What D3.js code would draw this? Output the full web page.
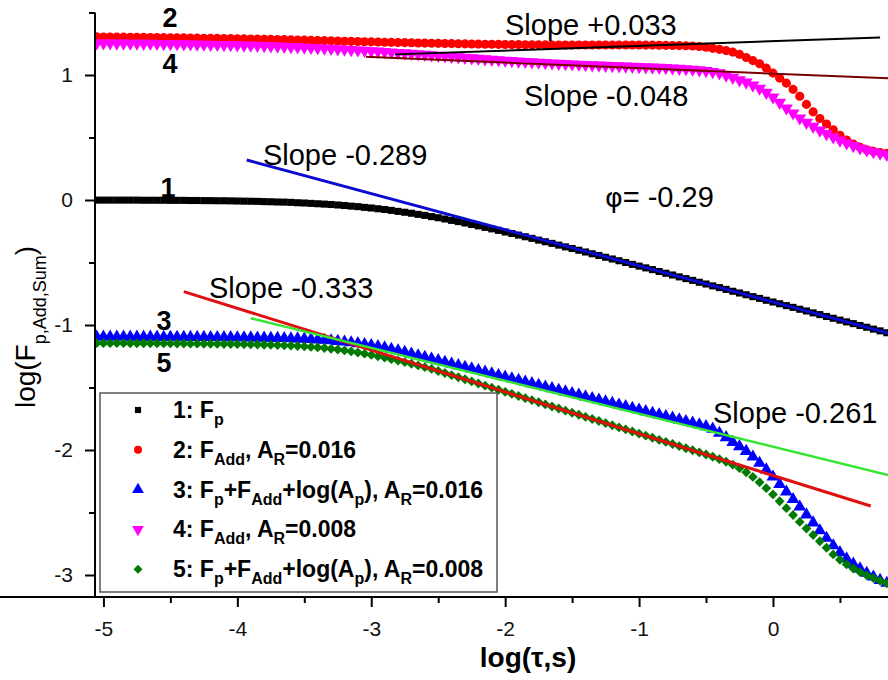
<!DOCTYPE html>
<html><head><meta charset="utf-8">
<script src="https://cdn.jsdelivr.net/npm/d3@7"></script>
<style>body{margin:0;background:#fff}svg{display:block}</style>
</head><body>
<svg id="c" width="888" height="680"></svg>
<script>
// ---------------- data ----------------
const logTau = [
-5.05,-5.00,-4.95,-4.90,-4.85,-4.80,-4.75,-4.70,-4.65,-4.60,
-4.55,-4.50,-4.45,-4.40,-4.35,-4.30,-4.25,-4.20,-4.15,-4.10,
-4.05,-4.00,-3.95,-3.90,-3.85,-3.80,-3.75,-3.70,-3.65,-3.60,
-3.55,-3.50,-3.45,-3.40,-3.35,-3.30,-3.25,-3.20,-3.15,-3.10,
-3.05,-3.00,-2.95,-2.90,-2.85,-2.80,-2.75,-2.70,-2.65,-2.60,
-2.55,-2.50,-2.45,-2.40,-2.35,-2.30,-2.25,-2.20,-2.15,-2.10,
-2.05,-2.00,-1.95,-1.90,-1.85,-1.80,-1.75,-1.70,-1.65,-1.60,
-1.55,-1.50,-1.45,-1.40,-1.35,-1.30,-1.25,-1.20,-1.15,-1.10,
-1.05,-1.00,-0.95,-0.90,-0.85,-0.80,-0.75,-0.70,-0.65,-0.60,
-0.55,-0.50,-0.45,-0.40,-0.35,-0.30,-0.25,-0.20,-0.15,-0.10,
-0.05,0.00,0.05,0.10,0.15,0.20,0.25,0.30,0.35,0.40,
0.45,0.50,0.55,0.60,0.65,0.70,0.75,0.80,0.85];

// 1: Fp
const series1 = [
-0.001,-0.001,-0.001,-0.001,-0.001,-0.001,-0.001,-0.002,-0.002,-0.002,
-0.002,-0.003,-0.003,-0.003,-0.004,-0.004,-0.005,-0.005,-0.006,-0.006,
-0.007,-0.008,-0.009,-0.010,-0.011,-0.013,-0.014,-0.016,-0.017,-0.019,
-0.022,-0.024,-0.027,-0.030,-0.033,-0.036,-0.040,-0.044,-0.049,-0.053,
-0.059,-0.064,-0.070,-0.076,-0.083,-0.091,-0.098,-0.106,-0.115,-0.123,
-0.133,-0.142,-0.152,-0.163,-0.173,-0.184,-0.196,-0.207,-0.219,-0.231,
-0.243,-0.256,-0.268,-0.281,-0.294,-0.307,-0.321,-0.334,-0.347,-0.361,
-0.375,-0.388,-0.402,-0.416,-0.430,-0.444,-0.458,-0.472,-0.486,-0.500,
-0.515,-0.529,-0.543,-0.557,-0.572,-0.586,-0.600,-0.615,-0.629,-0.643,
-0.658,-0.672,-0.687,-0.701,-0.715,-0.730,-0.744,-0.758,-0.773,-0.787,
-0.802,-0.816,-0.830,-0.845,-0.859,-0.874,-0.888,-0.903,-0.917,-0.932,
-0.946,-0.961,-0.975,-0.989,-1.004,-1.018,-1.033,-1.047,-1.062];

// 2: F_Add, A_R = 0.016
const series2 = [
1.305,1.304,1.304,1.303,1.303,1.302,1.302,1.301,1.300,1.300,
1.299,1.298,1.298,1.297,1.296,1.295,1.294,1.293,1.293,1.292,
1.291,1.290,1.289,1.288,1.287,1.286,1.285,1.284,1.283,1.281,
1.280,1.279,1.277,1.276,1.275,1.273,1.272,1.270,1.269,1.268,
1.266,1.265,1.264,1.262,1.261,1.260,1.259,1.258,1.256,1.255,
1.254,1.253,1.252,1.251,1.250,1.249,1.248,1.247,1.246,1.246,
1.245,1.244,1.243,1.243,1.242,1.242,1.241,1.241,1.240,1.240,
1.240,1.240,1.240,1.240,1.240,1.240,1.240,1.240,1.240,1.240,
1.240,1.240,1.239,1.239,1.238,1.237,1.236,1.235,1.234,1.232,
1.228,1.222,1.213,1.205,1.195,1.183,1.165,1.140,1.115,1.090,
1.055,1.015,0.975,0.935,0.885,0.830,0.765,0.705,0.652,0.608,
0.562,0.518,0.480,0.447,0.421,0.402,0.389,0.380,0.373];

// 3: Fp + F_Add + log(Ap), A_R = 0.016
const series3 = [
-1.095,-1.095,-1.095,-1.095,-1.095,-1.096,-1.096,-1.096,-1.096,-1.096,
-1.097,-1.097,-1.097,-1.097,-1.098,-1.098,-1.098,-1.099,-1.099,-1.100,
-1.100,-1.101,-1.101,-1.102,-1.103,-1.104,-1.105,-1.106,-1.107,-1.109,
-1.110,-1.112,-1.115,-1.118,-1.121,-1.125,-1.130,-1.135,-1.141,-1.148,
-1.155,-1.163,-1.172,-1.182,-1.193,-1.205,-1.218,-1.232,-1.245,-1.258,
-1.271,-1.284,-1.297,-1.311,-1.324,-1.337,-1.350,-1.363,-1.376,-1.389,
-1.403,-1.416,-1.429,-1.442,-1.455,-1.468,-1.481,-1.495,-1.508,-1.521,
-1.534,-1.547,-1.560,-1.574,-1.587,-1.600,-1.613,-1.626,-1.639,-1.652,
-1.666,-1.679,-1.692,-1.705,-1.718,-1.731,-1.744,-1.758,-1.771,-1.784,
-1.797,-1.812,-1.832,-1.865,-1.900,-1.938,-1.972,-2.010,-2.055,-2.105,
-2.158,-2.215,-2.275,-2.335,-2.395,-2.455,-2.518,-2.582,-2.645,-2.705,
-2.765,-2.820,-2.870,-2.912,-2.950,-2.985,-3.015,-3.042,-3.065];

// 4: F_Add, A_R = 0.008
const series4 = [
1.255,1.255,1.255,1.254,1.254,1.253,1.253,1.252,1.252,1.251,
1.250,1.250,1.249,1.248,1.247,1.246,1.245,1.244,1.243,1.242,
1.241,1.240,1.238,1.237,1.236,1.234,1.232,1.230,1.228,1.226,
1.224,1.222,1.219,1.217,1.214,1.211,1.208,1.205,1.202,1.199,
1.196,1.193,1.190,1.186,1.183,1.179,1.176,1.172,1.168,1.164,
1.160,1.156,1.152,1.148,1.144,1.140,1.136,1.132,1.128,1.124,
1.121,1.117,1.114,1.110,1.107,1.104,1.101,1.098,1.095,1.092,
1.090,1.087,1.085,1.082,1.080,1.078,1.076,1.074,1.072,1.070,
1.068,1.066,1.064,1.062,1.060,1.058,1.055,1.052,1.049,1.045,
1.040,1.034,1.026,1.016,0.998,0.980,0.960,0.942,0.918,0.893,
0.860,0.823,0.780,0.735,0.695,0.655,0.620,0.588,0.558,0.530,
0.503,0.478,0.455,0.434,0.415,0.399,0.385,0.373,0.363];

// 5: Fp + F_Add + log(Ap), A_R = 0.008
const series5 = [
-1.145,-1.145,-1.145,-1.145,-1.145,-1.146,-1.146,-1.146,-1.146,-1.147,
-1.147,-1.147,-1.148,-1.148,-1.149,-1.149,-1.150,-1.150,-1.151,-1.152,
-1.152,-1.153,-1.154,-1.155,-1.156,-1.158,-1.159,-1.161,-1.163,-1.165,
-1.168,-1.171,-1.175,-1.179,-1.184,-1.190,-1.196,-1.203,-1.211,-1.220,
-1.229,-1.239,-1.250,-1.261,-1.273,-1.285,-1.297,-1.310,-1.323,-1.337,
-1.351,-1.368,-1.384,-1.401,-1.418,-1.434,-1.451,-1.468,-1.485,-1.501,
-1.518,-1.535,-1.551,-1.568,-1.585,-1.601,-1.618,-1.635,-1.652,-1.668,
-1.685,-1.702,-1.718,-1.735,-1.752,-1.768,-1.785,-1.802,-1.819,-1.835,
-1.852,-1.869,-1.885,-1.902,-1.919,-1.935,-1.952,-1.969,-1.986,-2.002,
-2.019,-2.036,-2.054,-2.073,-2.094,-2.117,-2.145,-2.178,-2.215,-2.258,
-2.305,-2.355,-2.410,-2.465,-2.520,-2.575,-2.628,-2.680,-2.730,-2.782,
-2.835,-2.878,-2.915,-2.948,-2.976,-3.002,-3.025,-3.047,-3.067];

// fitted slope lines: [x0, x1] and [y0, y1] in data units
const slopeNames = ["+0.033", "-0.048", "-0.289", "-0.333", "-0.261"];
const slopeX = [[-2.82, 0.80], [-3.04, 0.86], [-3.93, 0.86], [-4.40, 0.73], [-3.90, 0.86]];
const slopeY = [[1.165, 1.300], [1.146, 0.973], [0.320, -1.064], [-0.733, -2.448], [-0.946, -2.200]];

// annotations (data units)
const annoText = ["Slope +0.033", "Slope -0.048", "Slope -0.289", "Slope -0.333", "Slope -0.261"];
const annoX = [-2.001, -1.860, -3.809, -4.212, -0.448];
const annoY = [1.320, 0.752, 0.280, -0.784, -1.784];
const phiText = "= -0.29";
const phiX = -1.255, phiY = -0.056;

const curveNums = ["2", "4", "1", "3", "5"];
const curveNumX = [-4.503, -4.503, -4.518, -4.548, -4.548];
const curveNumY = [1.384, 1.016, 0.024, -1.040, -1.376];

const xTicks = [-5, -4, -3, -2, -1, 0];
const xMinor = [-4.5, -3.5, -2.5, -1.5, -0.5, 0.5];
const yTicks = [-3, -2, -1, 0, 1];
const yMinor = [-2.5, -1.5, -0.5, 0.5, 1.5];

// legend labels: [text, isSubscript]
const legendLabels = [
  [["1: F",0],["p",1]],
  [["2: F",0],["Add",1],[", A",0],["R",1],["=0.016",0]],
  [["3: F",0],["p",1],["+F",0],["Add",1],["+log(A",0],["p",1],["), A",0],["R",1],["=0.016",0]],
  [["4: F",0],["Add",1],[", A",0],["R",1],["=0.008",0]],
  [["5: F",0],["p",1],["+F",0],["Add",1],["+log(A",0],["p",1],["), A",0],["R",1],["=0.008",0]]
];

// ---------------- styles ----------------
const seriesData = [series1, series2, series3, series4, series5];
const seriesColor = ["#000000", "#ff0000", "#0000ff", "#ff00ff", "#007a00"];
const seriesSymbol = [d3.symbolSquare, d3.symbolCircle, d3.symbolTriangle, d3.symbolTriangle, d3.symbolSquare];
const seriesSize = [50, 66, 72, 72, 48];
const seriesRot = [0, 0, 0, 180, 45];
const legendSize = [38, 50, 60, 60, 40];
const slopeColor = ["#000000", "#7a0000", "#0a0ad0", "#e01010", "#33e633"];
const slopeWidth = [2, 2, 3, 3, 2.5];

const FONT = "'Liberation Sans', Arial, Helvetica, sans-serif";
const svg = d3.select("#c");
const x = d3.scaleLinear().domain([-5.063, 0.859]).range([95, 888]);
const y = d3.scaleLinear().domain([-3.176, 1.5]).range([597, 12.5]);

svg.append("defs").append("clipPath").attr("id", "plot")
  .append("rect").attr("x", 95).attr("y", 10).attr("width", 793).attr("height", 587);

const plot = svg.append("g").attr("clip-path", "url(#plot)");

seriesData.forEach((vals, si) => {
  const sym = d3.symbol().type(seriesSymbol[si]).size(seriesSize[si]);
  plot.append("g").selectAll("path").data(logTau.map((t, i) => [t, vals[i]]))
    .join("path")
    .attr("d", sym)
    .attr("transform", d => `translate(${x(d[0])},${y(d[1])}) rotate(${seriesRot[si]})`)
    .attr("fill", seriesColor[si]);
});

slopeX.forEach((xs, i) => {
  plot.append("line")
    .attr("x1", x(xs[0])).attr("x2", x(xs[1]))
    .attr("y1", y(slopeY[i][0])).attr("y2", y(slopeY[i][1]))
    .attr("stroke", slopeColor[i]).attr("stroke-width", slopeWidth[i]);
});

// axes
const axisFont = g => g.selectAll("text").attr("font-family", FONT).attr("font-size", 21).attr("fill", "#111");
const gx = svg.append("g").attr("transform", "translate(0,597)");
gx.call(d3.axisBottom(x).tickValues(xTicks).tickSize(10).tickSizeOuter(0).tickPadding(14).tickFormat(d => String(d)));
gx.append("g").call(d3.axisBottom(x).tickValues(xMinor).tickSize(6).tickSizeOuter(0).tickFormat(""))
  .select(".domain").remove();
gx.call(axisFont);
const gy = svg.append("g").attr("transform", "translate(95,0)");
gy.call(d3.axisLeft(y).tickValues(yTicks).tickSize(10).tickSizeOuter(0).tickPadding(12).tickFormat(d => String(d)));
gy.append("g").call(d3.axisLeft(y).tickValues(yMinor).tickSize(6).tickSizeOuter(0).tickFormat(""))
  .select(".domain").remove();
gy.call(axisFont);
svg.selectAll(".domain, .tick line").attr("stroke", "#000").attr("stroke-width", 2);
gx.select(".domain").attr("d", "M0,0H888");
gy.select(".domain").attr("d", "M0,12.5V597");

// axis titles
svg.append("text").attr("x", 528).attr("y", 667).attr("text-anchor", "middle")
  .attr("font-family", FONT).attr("font-weight", "bold").attr("font-size", 28)
  .text("log(τ,s)");
const yt = svg.append("text").attr("transform", "translate(35,327) rotate(-90)")
  .attr("text-anchor", "middle").attr("font-family", FONT).attr("font-size", 28);
yt.append("tspan").text("log(F");
yt.append("tspan").attr("font-size", 18).attr("dy", 11).text("p,Add,Sum");
yt.append("tspan").attr("dy", -11).text(")");

// annotations
annoText.forEach((t, i) => {
  svg.append("text").attr("x", x(annoX[i])).attr("y", y(annoY[i]))
    .attr("font-family", FONT).attr("font-size", 29).text(t);
});
const phi = svg.append("text").attr("x", x(phiX)).attr("y", y(phiY))
  .attr("font-family", FONT).attr("font-size", 29);
phi.append("tspan").attr("font-family", "'DejaVu Sans', sans-serif").attr("font-size", 27).text("φ");
phi.append("tspan").text(phiText);

curveNums.forEach((t, i) => {
  svg.append("text").attr("x", x(curveNumX[i])).attr("y", y(curveNumY[i]))
    .attr("text-anchor", "middle").attr("font-family", FONT).attr("font-weight", "bold")
    .attr("font-size", 27).text(t);
});

// legend
const lg = svg.append("g");
lg.append("rect").attr("x", 100).attr("y", 393).attr("width", 397).attr("height", 199)
  .attr("fill", "#fff").attr("stroke", "#555").attr("stroke-width", 1.5);
legendLabels.forEach((parts, i) => {
  const base = 418 + i * 39.8;
  const sym = d3.symbol().type(seriesSymbol[i]).size(legendSize[i]);
  lg.append("path").attr("d", sym)
    .attr("transform", `translate(138,${base - 8}) rotate(${seriesRot[i]})`)
    .attr("fill", seriesColor[i]);
  const t = lg.append("text").attr("x", 173).attr("y", base)
    .attr("font-family", FONT).attr("font-weight", "bold").attr("font-size", 23);
  let sub = 0;
  parts.forEach(([s, isSub]) => {
    const ts = t.append("tspan").text(s);
    if (isSub && !sub) { ts.attr("dy", 7).attr("font-size", 16); sub = 1; }
    else if (isSub) { ts.attr("font-size", 16); }
    else if (sub) { ts.attr("dy", -7); sub = 0; }
  });
});
</script>
</body></html>
